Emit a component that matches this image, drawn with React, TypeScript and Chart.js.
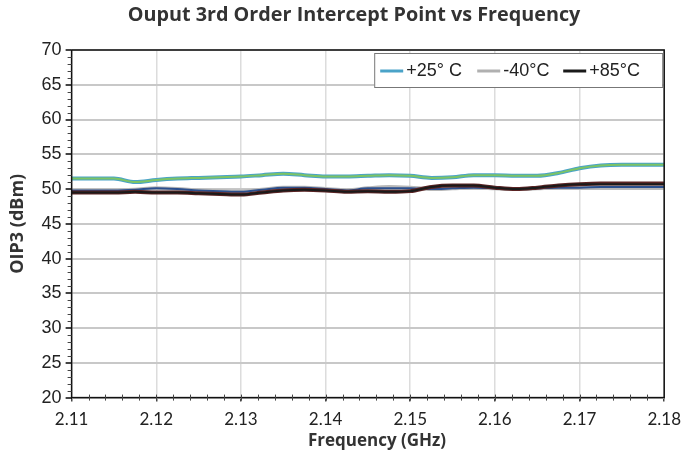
import { useEffect, useRef } from "react";
import { Chart, registerables } from "chart.js";
Chart.register(...registerables);

const frequencies = [2.11, 2.1125, 2.115, 2.1175, 2.12, 2.1225, 2.125, 2.1275, 2.13, 2.1325, 2.135, 2.1375, 2.14, 2.1425, 2.145, 2.1475, 2.15, 2.1525, 2.155, 2.1575, 2.16, 2.1625, 2.165, 2.1675, 2.17, 2.1725, 2.175, 2.1775, 2.18];
const plus25 = [51.5, 51.5, 51.5, 51.0, 51.3, 51.5, 51.6, 51.7, 51.8, 52.0, 52.2, 52.0, 51.8, 51.8, 51.9, 52.0, 51.9, 51.6, 51.7, 52.0, 52.0, 51.9, 51.9, 52.3, 53.0, 53.4, 53.5, 53.5, 53.5];
const plus25Trace = [51.5, 51.5, 51.5, 51.0, 51.3, 51.5, 51.6, 51.7, 51.8, 52.0, 52.2, 52.0, 51.8, 51.8, 51.9, 52.0, 51.9, 51.6, 51.7, 52.0, 52.0, 51.9, 51.9, 52.3, 53.0, 53.4, 53.5, 53.5, 53.5];
const minus40 = [49.8, 49.8, 49.8, 49.9, 50.1, 50.0, 49.8, 49.7, 49.6, 49.9, 50.2, 50.2, 50.0, 49.8, 50.1, 50.3, 50.2, 50.0, 50.1, 50.2, 50.1, 50.0, 50.1, 50.2, 50.2, 50.2, 50.2, 50.2, 50.2];
const minus40Trace = [49.8, 49.8, 49.8, 49.9, 50.1, 50.0, 49.8, 49.7, 49.6, 49.9, 50.2, 50.2, 50.0, 49.8, 50.1, 50.1, 50.1, 50.0, 50.1, 50.2, 50.1, 50.0, 50.1, 50.2, 50.2, 50.3, 50.3, 50.3, 50.3];
const plus85 = [49.5, 49.5, 49.5, 49.6, 49.5, 49.5, 49.4, 49.3, 49.2, 49.5, 49.8, 49.9, 49.8, 49.6, 49.7, 49.6, 49.7, 50.3, 50.5, 50.5, 50.2, 50.0, 50.2, 50.5, 50.7, 50.7, 50.7, 50.7, 50.7];
const plus85Trace = [49.5, 49.5, 49.5, 49.6, 49.5, 49.5, 49.4, 49.3, 49.2, 49.5, 49.8, 49.9, 49.8, 49.6, 49.7, 49.6, 49.7, 50.3, 50.5, 50.5, 50.2, 50.0, 50.2, 50.5, 50.7, 50.8, 50.8, 50.8, 50.8];
const legendLabels = ["+25° C", "-40°C", "+85°C"];
const legendColors = ["#4aa3c8", "#b0b0b0", "#1a1a1a"];
const chartTitle = "Ouput 3rd Order Intercept Point vs Frequency";
const xTitle = "Frequency (GHz)";
const yTitle = "OIP3 (dBm)";

const toPoints = (ys: number[]) => ys.map((y, i) => ({ x: frequencies[i], y }));

const decorPlugin = {
  id: "decor",
  afterDatasetsDraw(chart: any) {
    const { ctx, chartArea: a, scales } = chart;
    ctx.save();
    ctx.strokeStyle = "#111";
    ctx.lineWidth = 1.5;
    ctx.strokeRect(a.left, a.top, a.right - a.left, a.bottom - a.top);
    // minor ticks y (outside, left)
    ctx.strokeStyle = "#444";
    ctx.lineWidth = 1;
    for (let v = 21; v < 70; v++) {
      if (v % 5 === 0) continue;
      const y = Math.round(scales.y.getPixelForValue(v)) + 0.5;
      ctx.beginPath();
      ctx.moveTo(a.left - 4, y);
      ctx.lineTo(a.left, y);
      ctx.stroke();
    }
    // minor ticks x (crossing the axis)
    for (let k = 1; k < 35; k++) {
      const x = Math.round(scales.x.getPixelForValue(2.11 + k * 0.002)) + 0.5;
      ctx.beginPath();
      ctx.moveTo(x, a.bottom - 3);
      ctx.lineTo(x, a.bottom + 3);
      ctx.stroke();
    }
    // legend
    const w = 288, h = 34;
    const lx = a.right - w - 2, ly = a.top + 3;
    ctx.fillStyle = "#fff";
    ctx.fillRect(lx, ly, w, h);
    ctx.strokeStyle = "#777";
    ctx.lineWidth = 1;
    ctx.strokeRect(lx + 0.5, ly + 0.5, w, h);
    ctx.font = "18px 'Liberation Sans', Arial, sans-serif";
    ctx.textBaseline = "middle";
    const offsets = [6, 103, 189];
    legendLabels.forEach((lab, i) => {
      const sx = lx + offsets[i];
      const cy = ly + h / 2 + 1;
      ctx.strokeStyle = legendColors[i];
      ctx.lineWidth = 3;
      ctx.beginPath();
      ctx.moveTo(sx, cy);
      ctx.lineTo(sx + 23, cy);
      ctx.stroke();
      ctx.fillStyle = "#222";
      ctx.fillText(lab, sx + 26, cy);
    });
    // chart title and x-axis title
    ctx.fillStyle = "#333";
    ctx.textAlign = "center";
    ctx.textBaseline = "alphabetic";
    ctx.font = "bold 19.8px 'Open Sans', sans-serif";
    ctx.fillText(chartTitle, 354, 21);
    ctx.font = "bold 17px 'Open Sans', sans-serif";
    ctx.fillText(xTitle, 377, 446);
    ctx.restore();
  },
};

export default function App() {
  const ref = useRef<HTMLCanvasElement>(null);
  useEffect(() => {
    document.body.style.margin = "0";
    const chart = new Chart(ref.current!, {
      type: "line",
      data: {
        datasets: [
          { label: legendLabels[0], data: toPoints(plus25), borderColor: "#4aa3c8", borderWidth: 4, order: 6 },
          { label: "trace25", data: toPoints(plus25Trace), borderColor: "#7cc465", borderWidth: 2, order: 5 },
          { label: legendLabels[1], data: toPoints(minus40), borderColor: "#b8b8b8", borderWidth: 4, order: 4 },
          { label: "trace40", data: toPoints(minus40Trace), borderColor: "#2b4f8e", borderWidth: 2, order: 3 },
          { label: "trace85", data: toPoints(plus85Trace), borderColor: "#5a2424", borderWidth: 4, order: 2 },
          { label: legendLabels[2], data: toPoints(plus85), borderColor: "#1a1a1a", borderWidth: 2, order: 1 },
        ].map((d) => ({ ...d, pointRadius: 0, fill: false, cubicInterpolationMode: "monotone" as const })),
      },
      options: {
        animation: false,
        responsive: false,
        maintainAspectRatio: false,
        layout: { padding: { left: 3, right: 23, top: 50, bottom: 0 } },
        plugins: {
          legend: { display: false },
          tooltip: { enabled: false },
          title: { display: false },
        },
        scales: {
          x: {
            type: "linear",
            min: 2.11,
            max: 2.18,
            ticks: {
              stepSize: 0.01,
              callback: (v: any) => Number(v).toFixed(2),
              color: "#222",
              font: { family: "Lato, sans-serif", size: 17 },
              padding: 8,
            },
            grid: { color: "#dcdcdc", lineWidth: 1.5, tickLength: 4, tickColor: "#444" },
            border: { display: true, color: "#111" },
            title: {
              display: true,
              text: xTitle,
              color: "rgba(0,0,0,0)",
              font: { family: "'Open Sans', sans-serif", size: 15, weight: "bold" },
              padding: { top: 0, bottom: 0 },
            },
          },
          y: {
            min: 20,
            max: 70,
            ticks: {
              stepSize: 5,
              color: "#222",
              font: { family: "'Liberation Sans', Arial, sans-serif", size: 18 },
              padding: 4,
            },
            grid: { color: "#c8c8c8", lineWidth: 2, tickLength: 6, tickColor: "#444" },
            border: { display: true, color: "#111" },
            title: {
              display: true,
              text: yTitle,
              color: "#333",
              font: { family: "'Open Sans', sans-serif", size: 18, weight: "bold" },
              padding: { top: 4, bottom: 9 },
            },
          },
        },
      },
      plugins: [decorPlugin],
    });
    return () => chart.destroy();
  }, []);
  return (
    <div style={{ width: 689, height: 456, background: "#fff" }}>
      <canvas ref={ref} width={689} height={456} style={{ display: "block" }} />
    </div>
  );
}
